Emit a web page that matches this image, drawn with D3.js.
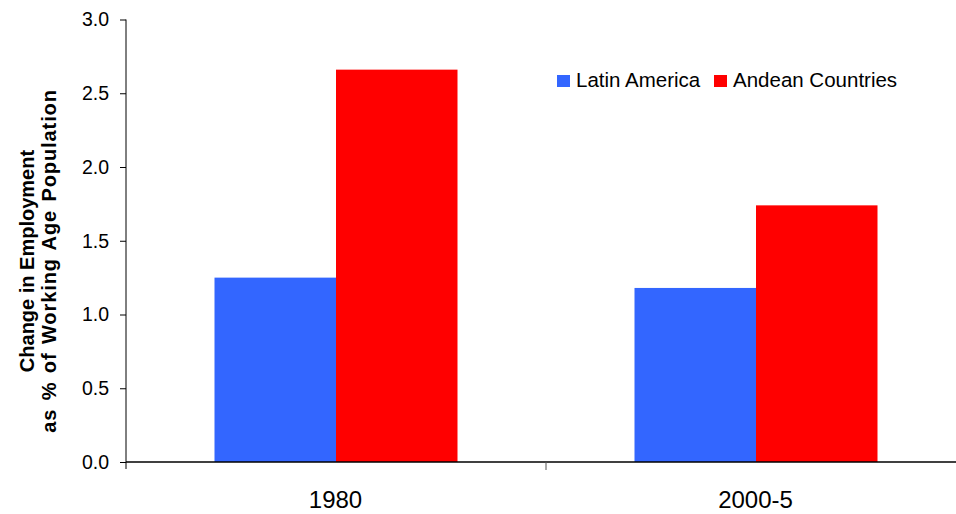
<!DOCTYPE html>
<html><head><meta charset="utf-8">
<script src="https://cdn.jsdelivr.net/npm/d3@7"></script>
<style>body{margin:0;background:#fff}svg{display:block;font-family:"Liberation Sans",Arial,sans-serif}</style>
</head><body>
<svg id="c" width="956" height="514"></svg>
<script>
const categories = ["1980", "2000-5"];
const seriesNames = ["Latin America", "Andean Countries"];
const latinAmerica = [1.25, 1.18];
const andeanCountries = [2.66, 1.74];
const yTicks = [0, 0.5, 1.0, 1.5, 2.0, 2.5, 3.0];
const colors = ["#3366FF", "#FF0000"];

(function () {
const svg = d3.select("#c");
const mLeft = 126, mRight = 966, mTop = 19.5, mBottom = 462;
const x = d3.scaleBand().domain(categories).range([mLeft, mRight]).paddingInner(0).paddingOuter(0);
const y = d3.scaleLinear().domain([0, 3]).range([mBottom, mTop]);
const inner = d3.scaleBand().domain(seriesNames).range([88.5, x.bandwidth() - 88.5]);

const data = categories.map((c, i) => ({c, vals: [latinAmerica[i], andeanCountries[i]]}));
const g = svg.append("g");
data.forEach(d => {
  d.vals.forEach((v, j) => {
    g.append("rect")
      .attr("x", x(d.c) + inner(seriesNames[j]))
      .attr("width", inner.bandwidth())
      .attr("y", y(v))
      .attr("height", y(0) - y(v))
      .attr("fill", colors[j]);
  });
});

// y axis
const ya = svg.append("g").attr("transform", `translate(${mLeft},0)`)
  .call(d3.axisLeft(y).tickValues(yTicks).tickFormat(d3.format(".1f")).tickSize(6).tickPadding(11));
ya.select(".domain").remove();
ya.selectAll("text").attr("font-size", 19.5).attr("fill", "#000").attr("font-family", "Liberation Sans, Arial, sans-serif");
ya.selectAll("line").attr("stroke", "#000");
svg.append("line").attr("x1", mLeft).attr("x2", mLeft).attr("y1", mTop).attr("y2", mBottom + 7).attr("stroke", "#000").attr("stroke-width", 1);

// x axis
svg.append("line").attr("x1", mLeft).attr("x2", mRight).attr("y1", mBottom).attr("y2", mBottom).attr("stroke", "#000").attr("stroke-width", 1.5);
svg.append("line").attr("x1", x(categories[1])).attr("x2", x(categories[1])).attr("y1", mBottom).attr("y2", mBottom + 8).attr("stroke", "#555").attr("stroke-width", 1);
svg.selectAll(".xl").data(categories).enter().append("text")
  .attr("x", d => x(d) + x.bandwidth() / 2 - 0.5)
  .attr("y", 508)
  .attr("text-anchor", "middle")
  .attr("font-size", 24)
  .text(d => d);

// y title
const yt = svg.append("text").attr("transform", "rotate(-90)")
  .attr("font-weight", "bold").attr("font-size", 20).attr("text-anchor", "middle");
yt.append("tspan").attr("x", -261).attr("y", 34).text("Change in Employment");
yt.append("tspan").attr("x", -261).attr("y", 56).attr("letter-spacing", 0.9).attr("word-spacing", 2).text("as % of Working Age Population");

// legend
const lg = svg.append("g");
const legX = [557, 714];
seriesNames.forEach((s, i) => {
  lg.append("rect").attr("x", legX[i]).attr("y", 75).attr("width", 13).attr("height", 12).attr("fill", colors[i]);
  lg.append("text").attr("x", legX[i] + 19).attr("y", 87).attr("font-size", 20.5).text(s);
});
})();
</script>
</body></html>
